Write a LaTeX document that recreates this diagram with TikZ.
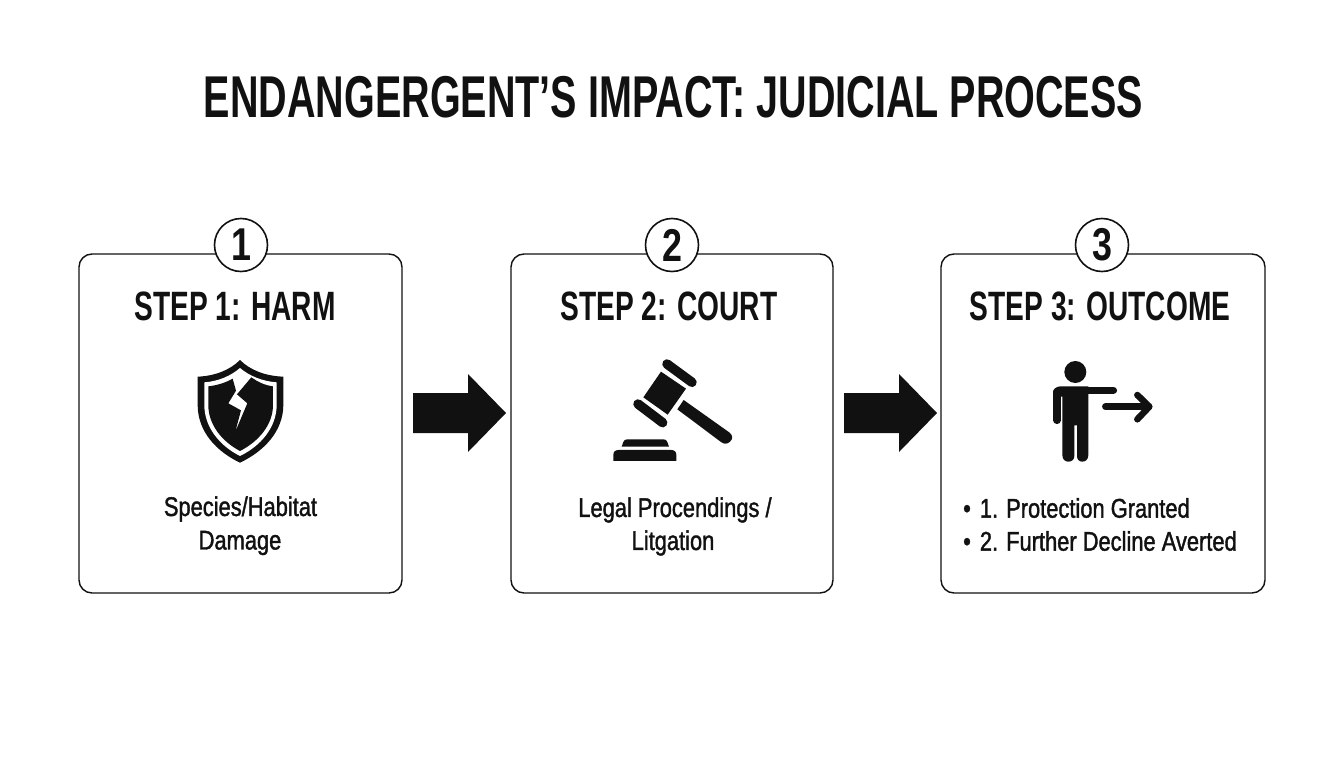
\documentclass[tikz,border=0pt]{standalone}
\usepackage{fontspec}
\setmainfont{Liberation Sans}
\newfontfamily\headfont[FakeStretch=0.67]{Liberation Sans Bold}
\newfontfamily\stepfont[FakeStretch=0.686]{Liberation Sans Bold}
\newfontfamily\digitfont[FakeStretch=0.78]{Liberation Sans Bold}
\newfontfamily\bodyfont[FakeStretch=0.81,FakeBold=1.4]{Liberation Sans}
\definecolor{ink}{HTML}{111111}
\tikzset{
  x=1pt,y=-1pt,
  stepcard/.style={draw=ink,line width=1.4pt,rounded corners=13pt,fill=white,anchor=north west,inner sep=0pt,outer sep=0pt},
  badge/.style={circle,draw=ink,line width=1.6pt,fill=white,minimum size=53pt,inner sep=0pt,text=ink,font=\digitfont\fontsize{46}{46}\selectfont},
  headline/.style={text=ink,font=\headfont\fontsize{59}{59}\selectfont,inner sep=0pt},
  cardtitle/.style={text=ink,font=\stepfont\fontsize{41}{41}\selectfont,inner sep=0pt},
  cardtext/.style={text=ink,font=\bodyfont\fontsize{27}{27}\selectfont,inner sep=0pt},
  bigarrow/.style={fill=ink,draw=none},
  ico/.style={fill=ink,draw=none},
  bar/.style={draw=ink,line cap=round},
}
\begin{document}
\begin{tikzpicture}
\useasboundingbox (0,0) rectangle (1344,768);
\fill[white] (0,0) rectangle (1344,768);

\node[headline] (title) at (673.5,97) {ENDANGERGENT’S IMPACT: JUDICIAL PROCESS};

% cards
\node[stepcard,minimum width=323pt,minimum height=339pt] (c1) at (79,254) {};
\node[stepcard,minimum width=322pt,minimum height=339pt] (c2) at (511,254) {};
\node[stepcard,minimum width=324pt,minimum height=339pt] (c3) at (941,254) {};

\node[badge] (b1) at (241,245) {1};
\node[badge] (b2) at (672,245) {2};
\node[badge] (b3) at (1102,245) {3};

\node[cardtitle] (t1) at (235,306) {STEP 1: HARM};
\node[cardtitle] (t2) at (669,306) {STEP 2: COURT};
\node[cardtitle] (t3) at (1100,306) {STEP 3: OUTCOME};

\node[cardtext] (d1a) at (240.5,509) {Species/Habitat};
\node[cardtext] (d1b) at (240,543) {Damage};
\node[cardtext] (d2a) at (675,510) {Legal Procendings /};
\node[cardtext] (d2b) at (673,543) {Litgation};
\node[cardtext,anchor=west] (d3a) at (963,508) {•\,\,1. Protection Granted};
\node[cardtext,anchor=west] (d3b) at (963,541) {•\,\,2. Further Decline Averted};

% block arrows
\coordinate (a1) at (413,393);
\coordinate (a2) at (844,393);
\foreach \a in {a1,a2}{
  \fill[bigarrow] (\a) -- ++(55,0) -- ++(0,-19) -- ++(38,39) -- ++(-38,39) -- ++(0,-19) -- ++(-55,0) -- cycle;
}

% shield
\begin{scope}[shift={(160,340)},scale=0.3333]
\fill[ico] (240,60) .. controls (210,90) and (165,108) .. (113,110) -- (113,195)
  .. controls (113,275) and (170,335) .. (240,368)
  .. controls (310,335) and (370,275) .. (370,195) -- (370,110)
  .. controls (315,108) and (270,90) .. (240,60) -- cycle;
\fill[white] (240,84) .. controls (212,108) and (175,124) .. (133,127) -- (133,195)
  .. controls (133,262) and (180,318) .. (240,348)
  .. controls (302,318) and (350,262) .. (350,195) -- (350,127)
  .. controls (308,124) and (268,108) .. (240,84) -- cycle;
\fill[ico] (145,139) .. controls (172,136) and (197,128) .. (218,116)
  -- (228,152) -- (205,190) -- (243,211) -- (226,275) -- (262,190) -- (231,163) -- (274,112)
  .. controls (293,126) and (315,136) .. (339,139) -- (339,195)
  .. controls (339,255) and (295,305) .. (240,333)
  .. controls (187,305) and (145,255) .. (145,195) -- cycle;
\end{scope}

% gavel
\begin{scope}[shift={(590,340)},scale=0.3333]
\draw[bar,line width=9.5pt] (231,72) -- (306,127);
\draw[bar,line width=9.5pt] (144,192) -- (218,248);
\fill[ico] (213,95) -- (288,146) -- (233,224) -- (160,172) -- cycle;
\fill[ico] (281,180) -- (419,278) .. controls (430,288) and (428,298) .. (420,305)
  .. controls (412,313) and (402,313) .. (393,306) -- (262,208) -- cycle;
\fill[ico] (95,320) -- (100,306) .. controls (102,300) and (106,298) .. (112,298) -- (220,298)
  .. controls (226,298) and (230,300) .. (232,306) -- (237,320) -- cycle;
\fill[ico] (70,363) -- (70,345) .. controls (70,335) and (76,330) .. (86,330) -- (243,330)
  .. controls (253,330) and (259,335) .. (259,345) -- (259,363) -- cycle;
\end{scope}

% person pointing
\begin{scope}[shift={(1030,340)},scale=0.3333]
\fill[ico] (136,96) circle (33);
\draw[bar,line width=7.5pt] (90,151) -- (250,151);
\draw[bar,line width=7.5pt] (81,155) -- (81,241);
\fill[ico] (69,160) .. controls (69,148) and (78,139) .. (92,139) -- (175,139) -- (175,345)
  .. controls (175,358) and (167,365) .. (157,365)
  .. controls (147,365) and (141,358) .. (141,348) -- (141,256) -- (133,256) -- (133,348)
  .. controls (133,358) and (126,365) .. (115,365)
  .. controls (105,365) and (97,358) .. (97,345) -- (97,170) -- (69,170) -- cycle;
\draw[bar,line width=6.5pt] (226,200) -- (355,200);
\draw[bar,line width=6.5pt,line join=round] (322,165) -- (358,200) -- (322,238);
\end{scope}
\end{tikzpicture}
\end{document}
